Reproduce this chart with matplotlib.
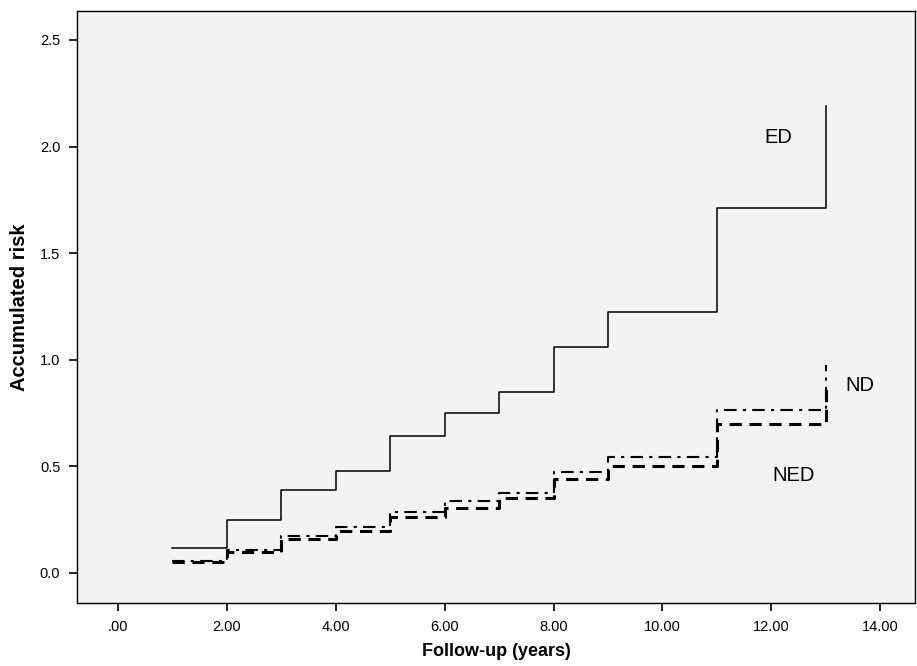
import numpy as np
from matplotlib import pyplot as plt

plt.rcParams['font.family'] = ['Liberation Sans', 'DejaVu Sans']

# event times (years) and accumulated risk at each step
times = [1, 2, 3, 4, 5, 6, 7, 8, 9, 11, 13]
ed = [0.119, 0.249, 0.389, 0.48, 0.643, 0.752, 0.848, 1.061, 1.226, 1.71, 2.19]
nd = [0.055, 0.107, 0.172, 0.215, 0.288, 0.336, 0.377, 0.475, 0.546, 0.763, 0.976]
ned = [0.050, 0.098, 0.160, 0.195, 0.262, 0.306, 0.352, 0.440, 0.502, 0.699, 0.89]

xticks = [0, 2, 4, 6, 8, 10, 12, 14]
xticklabels = ['.00', '2.00', '4.00', '6.00', '8.00', '10.00', '12.00', '14.00']
yticks = [0.0, 0.5, 1.0, 1.5, 2.0, 2.5]

fig = plt.figure(figsize=(9.17, 6.66), dpi=100)
ax = fig.add_axes([0.084, 0.0946, 0.914, 0.889])
ax.set_facecolor('#f3f3f3')

ax.step(times, ed, where='post', color='black', linewidth=1.1)
ax.step(times, nd, where='post', color='black', linewidth=1.5,
        dashes=(6, 3, 1.5, 3))
ax.step(times, ned, where='post', color='black', linewidth=2.2,
        dashes=(4, 2.5))

ax.text(12.12, 2.04, 'ED', fontsize=14.5, ha='center', va='center')
ax.text(13.63, 0.877, 'ND', fontsize=14.5, ha='center', va='center')
ax.text(12.40, 0.455, 'NED', fontsize=14.5, ha='center', va='center')

ax.set_xlim(-0.75, 14.64)
ax.set_ylim(-0.141, 2.636)
ax.set_xticks(xticks)
ax.set_xticklabels(xticklabels)
ax.set_yticks(yticks)
ax.set_yticklabels(['%.1f' % v for v in yticks])
ax.tick_params(direction='out', length=6, width=1.2, labelsize=10.5, pad=6)

for s in ax.spines.values():
    s.set_linewidth(1.0)

ax.set_xlabel('Follow-up (years)', fontsize=13, fontweight='bold', labelpad=7)
ax.set_ylabel('Accumulated risk', fontsize=14.5, fontweight='bold', labelpad=8)

fig.savefig('out.png', dpi=100)
